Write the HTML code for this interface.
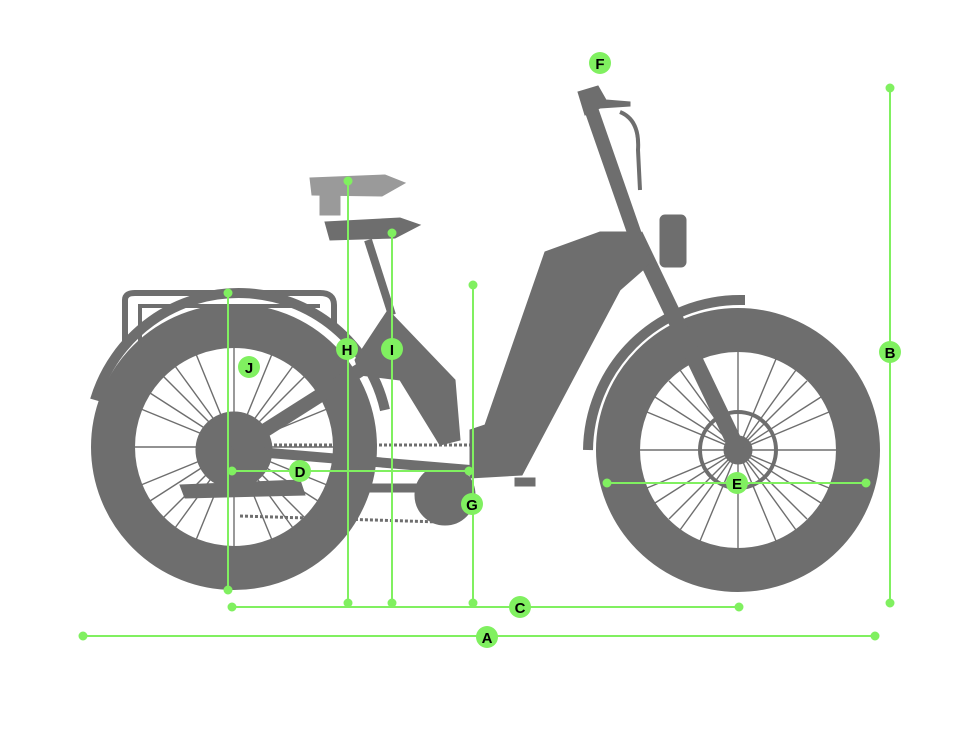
<!DOCTYPE html>
<html><head><style>
html,body{margin:0;padding:0;background:#fff;}
svg{display:block;}
text{font-family:"Liberation Sans",sans-serif;font-weight:bold;font-size:15px;}
</style></head><body>
<svg width="960" height="740" viewBox="0 0 960 740">
<g fill="#6e6e6e" stroke="#6e6e6e">
  <!-- rear rack -->
  <path d="M125 345 L125 300 Q125 293 135 293 L320 293 Q334 293 334 305 L334 330" fill="none" stroke-width="6"/>
  <path d="M140 345 L140 306 L320 306" fill="none" stroke-width="4"/>
  <!-- rear fender -->
  <path d="M95 400 A150 150 0 0 1 385 410" fill="none" stroke-width="10"/>
  <!-- rear wheel -->
  <circle cx="234" cy="447" r="121" fill="none" stroke-width="44"/>
  <g stroke-width="1.4">
    <line x1="234" y1="347" x2="234" y2="547"/><line x1="134" y1="447" x2="334" y2="447"/>
    <line x1="163" y1="376" x2="305" y2="518"/><line x1="163" y1="518" x2="305" y2="376"/>
    <line x1="196" y1="354" x2="272" y2="540"/><line x1="272" y1="354" x2="196" y2="540"/>
    <line x1="141" y1="409" x2="327" y2="485"/><line x1="141" y1="485" x2="327" y2="409"/>
    <line x1="175" y1="366" x2="293" y2="528"/><line x1="293" y1="366" x2="175" y2="528"/>
    <line x1="150" y1="393" x2="318" y2="501"/><line x1="150" y1="501" x2="318" y2="393"/>
  </g>
  <circle cx="234" cy="450" r="38"/>
  <!-- front fender -->
  <path d="M588 450 A152 152 0 0 1 740 300 L745 300" fill="none" stroke-width="10"/>
  <!-- front wheel -->
  <circle cx="738" cy="450" r="120" fill="none" stroke-width="44"/>
  <g stroke-width="1.4">
    <line x1="738" y1="352" x2="738" y2="548"/><line x1="640" y1="450" x2="836" y2="450"/>
    <line x1="669" y1="381" x2="807" y2="519"/><line x1="669" y1="519" x2="807" y2="381"/>
    <line x1="700" y1="359" x2="776" y2="541"/><line x1="776" y1="359" x2="700" y2="541"/>
    <line x1="647" y1="412" x2="829" y2="488"/><line x1="647" y1="488" x2="829" y2="412"/>
    <line x1="680" y1="370" x2="796" y2="530"/><line x1="796" y1="370" x2="680" y2="530"/>
    <line x1="655" y1="397" x2="821" y2="503"/><line x1="655" y1="503" x2="821" y2="397"/>
  </g>
  <circle cx="738" cy="450" r="38" fill="none" stroke-width="4"/>
  <circle cx="738" cy="450" r="14"/>
  <!-- stem & fork -->
  <line x1="588" y1="100" x2="635" y2="235" stroke-width="14"/>
  <line x1="635" y1="235" x2="738" y2="450" stroke-width="16"/>
  <path d="M620 112 Q640 120 638 150 L640 190" fill="none" stroke-width="4"/>
  <path d="M578 92 L598 86 L606 100 L630 102 L630 106 L600 108 L585 115 Z"/>
  <rect x="660" y="215" width="26" height="52" rx="5"/>
  <!-- down tube / frame -->
  <path d="M545 252 L600 232 L640 232 L652 262 L620 290 L522 475 L470 478 L470 430 L485 425 Z"/>
  <!-- seat tube -->
  <line x1="368" y1="240" x2="392" y2="315" stroke-width="8"/>
  <path d="M388 310 L455 380 L460 440 L440 445 L400 380 L360 375 L355 360 Z"/>
  <!-- seat stays / chain stays -->
  <line x1="234" y1="450" x2="360" y2="370" stroke-width="14"/>
  <line x1="234" y1="450" x2="470" y2="470" stroke-width="10"/>
  <path d="M180 485 L300 480 L305 495 L185 498 Z"/>
  <circle cx="445" cy="495" r="30"/>
  <line x1="234" y1="445" x2="470" y2="445" stroke-width="3" stroke-dasharray="3 2"/>
  <line x1="240" y1="516" x2="440" y2="522" stroke-width="3" stroke-dasharray="3 2"/>
  <rect x="370" y="484" width="50" height="8"/>
  <rect x="515" y="478" width="20" height="8"/>
  <!-- seat -->
  <path d="M325 222 L400 218 L420 225 L395 238 L330 240 Z"/>
  <path d="M310 178 L385 175 L405 183 L382 196 L312 195 Z" fill="#9a9a9a" stroke="#9a9a9a"/>
  <rect x="320" y="195" width="20" height="20" fill="#9a9a9a" stroke="#9a9a9a"/>
</g>
<g stroke="#80f060" stroke-width="2" fill="#80f060">
  <line x1="83" y1="636" x2="875" y2="636"/><circle cx="83" cy="636" r="3.5"/><circle cx="875" cy="636" r="3.5"/>
  <line x1="890" y1="88" x2="890" y2="603"/><circle cx="890" cy="88" r="3.5"/><circle cx="890" cy="603" r="3.5"/>
  <line x1="232" y1="607" x2="739" y2="607"/><circle cx="232" cy="607" r="3.5"/><circle cx="739" cy="607" r="3.5"/>
  <line x1="232" y1="471" x2="469" y2="471"/><circle cx="232" cy="471" r="3.5"/><circle cx="469" cy="471" r="3.5"/>
  <line x1="607" y1="483" x2="866" y2="483"/><circle cx="607" cy="483" r="3.5"/><circle cx="866" cy="483" r="3.5"/>
  <line x1="473" y1="285" x2="473" y2="603"/><circle cx="473" cy="285" r="3.5"/><circle cx="473" cy="603" r="3.5"/>
  <line x1="348" y1="181" x2="348" y2="603"/><circle cx="348" cy="181" r="3.5"/><circle cx="348" cy="603" r="3.5"/>
  <line x1="392" y1="233" x2="392" y2="603"/><circle cx="392" cy="233" r="3.5"/><circle cx="392" cy="603" r="3.5"/>
  <line x1="228" y1="293" x2="228" y2="590"/><circle cx="228" cy="293" r="3.5"/><circle cx="228" cy="590" r="3.5"/>
</g>
<g fill="#80f060">
  <circle cx="487" cy="637" r="11"/><circle cx="890" cy="352" r="11"/><circle cx="520" cy="607" r="11"/>
  <circle cx="300" cy="471" r="11"/><circle cx="737" cy="483" r="11"/><circle cx="600" cy="63" r="11"/>
  <circle cx="472" cy="504" r="11"/><circle cx="347" cy="349" r="11"/><circle cx="392" cy="349" r="11"/>
  <circle cx="249" cy="367" r="11"/>
</g>
<g fill="#000" text-anchor="middle">
  <text x="487" y="643">A</text><text x="890" y="358">B</text><text x="520" y="613">C</text>
  <text x="300" y="477">D</text><text x="737" y="489">E</text><text x="600" y="69">F</text>
  <text x="472" y="510">G</text><text x="347" y="355">H</text><text x="392" y="355">I</text>
  <text x="249" y="373">J</text>
</g>
</svg>
</body></html>
